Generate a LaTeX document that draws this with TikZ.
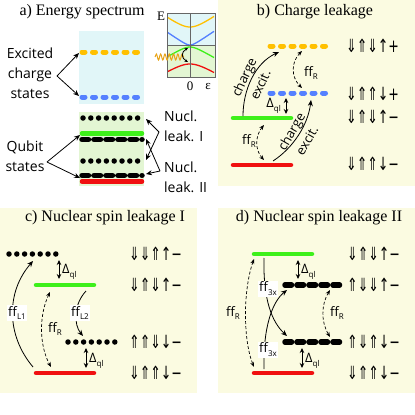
\documentclass[tikz,border=0pt]{standalone}
\usepackage{fontspec}
\setmainfont{Open Sans}
\newfontfamily\ttlfont{Liberation Serif}
\newfontfamily\arrfont{DejaVu Sans Condensed}
\usetikzlibrary{arrows.meta,decorations.pathmorphing}
\definecolor{bgy}{HTML}{FBFBE1}
\definecolor{bgc}{HTML}{E1F6F8}
\definecolor{bgg}{HTML}{E3F6D3}
\definecolor{lvy}{HTML}{FFC000}
\definecolor{lvb}{HTML}{5580FF}
\definecolor{lvg}{HTML}{3EF01A}
\definecolor{lvr}{HTML}{F01010}
\definecolor{wav}{HTML}{E8A317}
\newcommand\sbs[1]{\raisebox{-0.3em}{\fontsize{8}{8}\selectfont #1}}
\newcommand\stt[1]{\scalebox{1}[1.3]{#1}}
\begin{document}
\begin{tikzpicture}[x=1pt,y=-1pt,
  lvl/.style={line width=4.5pt,line cap=round},
  pills/.style={line width=5pt,line cap=round,dash pattern=on 3pt off 7.5pt},
  dots/.style={line width=5.5pt,line cap=round,dash pattern=on 0pt off 7.8pt},
  bars/.style={line width=5.5pt,line cap=round,dash pattern=on 6.5pt off 5.5pt},
  arw/.style={-{Stealth[length=6pt,width=5pt]},line width=0.8pt},
  darw/.style={{Stealth[length=5pt,width=4pt]}-{Stealth[length=5pt,width=4pt]},line width=0.7pt,dash pattern=on 3pt off 2pt},
  gap/.style={{Stealth[length=5pt,width=4.5pt]}-{Stealth[length=5pt,width=4.5pt]},line width=0.9pt},
  lab/.style={font=\fontsize{14}{20}\selectfont,align=center,inner sep=0pt},
  cex/.style={font=\fontsize{13}{18}\selectfont,align=center,inner sep=0pt},
  st/.style={font=\arrfont\fontsize{14}{14}\selectfont,anchor=west,inner sep=0pt},
  ttl/.style={font=\ttlfont\fontsize{16}{16}\selectfont,inner sep=0pt},
  ffl/.style={font=\fontsize{13}{13}\selectfont,inner sep=1pt},
  ffw/.style={ffl,fill=white},
  ser/.style={font=\ttlfont\fontsize{13}{13}\selectfont,inner sep=0pt}]
\useasboundingbox (0,0) rectangle (415,415);
% backgrounds
\fill[bgy] (218,0) rectangle (415,186);
\fill[bgy] (0,208) rectangle (197,393);
\fill[bgy] (218,208) rectangle (415,393);
\fill[bgc] (79,31) rectangle (144,104);
\fill[bgg] (79,112) rectangle (144,186);
% titles
\node[ttl] (ta) at (82,12) {a) Energy spectrum};
\node[ttl] (tb) at (315,12) {b) Charge leakage};
\node[ttl] (tc) at (105,218) {c) Nuclear spin leakage I};
\node[ttl] (td) at (319,218) {d) Nuclear spin leakage II};
% ---------- panel a
\draw[pills,lvy] (82,52) -- (142,52);
\draw[pills,lvb] (82,97) -- (142,97);
\draw[dots] (83,118) -- (142,118);
\draw[bars] (82,139.5) -- (142,139.5);
\draw[lvl,lvg] (82,133.5) -- (142,133.5);
\draw[dots] (83,161) -- (142,161);
\draw[bars] (82,175.5) -- (142,175.5);
\draw[lvl,lvr] (82,181.5) -- (142,181.5);
\node[lab] (exc) at (30,73) {Excited\\charge\\states};
\coordinate (ja) at (57,76);
\coordinate (ay) at (79,53);
\coordinate (ab) at (79,96);
\draw[arw] (ja) -- (ay);
\draw[arw] (ja) -- (ab);
\node[lab] (qub) at (25,156) {Qubit\\states};
\coordinate (jq) at (47,162);
\coordinate (ag) at (80,135);
\coordinate (ar) at (80,178);
\draw[arw] (jq) -- (ag);
\draw[arw] (jq) -- (ar);
\node[lab,align=left,anchor=west] (nl1) at (164,126) {Nucl.\\leak. I};
\node[lab,align=left,anchor=west] (nl2) at (164,177.5) {Nucl.\\leak. II};
\coordinate (j1) at (159,132);
\coordinate (j2) at (160,171);
\coordinate (d1) at (146,119);
\coordinate (d2) at (146,160);
\coordinate (k1) at (146,139);
\coordinate (k2) at (146,174);
\draw[arw] (j1) -- (d1);
\draw[arw] (j1) -- (d2);
\draw[arw] (j2) -- (k1);
\draw[arw] (j2) -- (k2);
% inset
\fill[bgc] (167,13) rectangle (215,45);
\fill[bgg] (167,45) rectangle (215,77);
\begin{scope}
\clip (167,13) rectangle (215,77);
\draw[lvy,line width=1.3pt] plot[domain=-24:24,samples=40] ({190+\x},{27-(sqrt(64+0.49*\x*\x)-8)});
\draw[lvb,line width=1.3pt] plot[domain=-24:24,samples=60] ({190+\x},{45-(sqrt(9+0.467*\x*\x)-3)});
\draw[lvg,line width=1.3pt] plot[domain=-24:24,samples=60] ({190+\x},{47+(sqrt(16+0.34*\x*\x)-4)});
\draw[lvr,line width=1.3pt] plot[domain=-24:24,samples=40] ({190+\x},{64+(sqrt(64+0.363*\x*\x)-8)});
\end{scope}
\draw[gray!80!black,line width=0.6pt] (167,13) rectangle (215,77);
\draw[gray!80!black,line width=0.6pt] (167,45) -- (215,45);
\draw[gray!80!black,line width=0.6pt] (190,13) -- (190,77);
\coordinate (w0) at (155,57);
\coordinate (w1) at (184,57);
\draw[wav,line width=1pt,decorate,decoration={snake,segment length=4.3pt,amplitude=3pt}] (w0) -- (w1);
\coordinate (i1) at (188,48);
\coordinate (i2) at (188,62);
\draw[{Stealth[length=3.5pt,width=3pt]}-{Stealth[length=3.5pt,width=3pt]},line width=0.8pt] (i1) .. controls (181,52) and (181,58) .. (i2);
\node[ser] (E) at (161,16) {E};
\node[ser] (z0) at (190,86) {0};
\node[ser] (eps) at (208,86) {ε};
% ---------- panel b
\draw[pills,lvy] (270,46) -- (328,46);
\draw[pills,lvb] (270,93) -- (328,93);
\draw[lvl,lvg] (233,118) -- (291,118);
\draw[lvl,lvr] (233,165) -- (291,165);
\node[st] (b1) at (346,46) {\stt{⇓⇑⇓↑+}};
\node[st] (b2) at (346,94) {\stt{⇓⇑⇑↓+}};
\node[st] (b3) at (346,117) {\stt{⇓⇑⇓↑−}};
\node[st] (b4) at (346,164) {\stt{⇓⇑⇑↓−}};
\coordinate (bg1) at (243,116);
\coordinate (by1) at (279,52);
\draw[arw] (bg1) .. controls (243,90) and (255,63) .. (by1);
\node[cex,rotate=65] (ce1) at (252,81) {charge\\excit.};
\coordinate (br1) at (273,161);
\coordinate (bb1) at (311,100);
\draw[arw] (br1) .. controls (293,148) and (308,125) .. (bb1);
\node[cex,rotate=60] (ce2) at (299,136) {charge\\excit.};
\coordinate (bq1) at (286,98);
\coordinate (bq2) at (286,114);
\draw[gap] (bq1) -- (bq2);
\node[ffl,anchor=east] (bdq) at (282,106) {Δ\sbs{ql}};
\coordinate (bf1) at (302,51);
\coordinate (bf2) at (302,88);
\draw[darw] (bf1) .. controls (291,62) and (291,77) .. (bf2);
\node[ffl] (bfr1) at (311,73) {ff\sbs{R}};
\coordinate (bf3) at (264,125);
\coordinate (bf4) at (264,160);
\draw[darw] (bf3) .. controls (255,136) and (255,150) .. (bf4);
\node[ffl] (bfr2) at (249,141) {ff\sbs{R}};
% ---------- panel c
\draw[dots] (9,254) -- (63,254);
\draw[lvl,lvg] (36,285) -- (94,285);
\draw[dots] (68,342) -- (120,342);
\draw[lvl,lvr] (36,373) -- (94,373);
\node[st] (c1) at (129,254) {\stt{⇓⇓⇑↑−}};
\node[st] (c2) at (129,285) {\stt{⇓⇑⇓↑−}};
\node[st] (c3) at (129,342) {\stt{⇑⇑⇓↓−}};
\node[st] (c4) at (129,373) {\stt{⇓⇑⇑↓−}};
\coordinate (cq1) at (59,260);
\coordinate (cq2) at (59,279);
\draw[gap] (cq1) -- (cq2);
\node[ffl,anchor=west] (cdq1) at (61,272) {Δ\sbs{ql}};
\coordinate (cq3) at (86,348);
\coordinate (cq4) at (86,368);
\draw[gap] (cq3) -- (cq4);
\node[ffl,anchor=west] (cdq2) at (88,361) {Δ\sbs{ql}};
\coordinate (cl1a) at (33,367);
\coordinate (cl1b) at (33,261);
\draw[arw] (cl1a) .. controls (6,335) and (6,292) .. (cl1b);
\coordinate (cra) at (50,292);
\coordinate (crb) at (51,367);
\draw[darw] (cra) .. controls (39,315) and (39,345) .. (crb);
\coordinate (cl2a) at (86,291);
\coordinate (cl2b) at (83,336);
\draw[arw] (cl2a) .. controls (73,305) and (74,325) .. (cl2b);
\node[ffw] (cfl1) at (17,313) {ff\sbs{L1}};
\node[ffw] (cfl2) at (80,313) {ff\sbs{L2}};
\node[ffl] (cfr) at (55,329) {ff\sbs{R}};
% ---------- panel d
\draw[lvl,lvg] (254,254) -- (312,254);
\draw[bars] (285,285) -- (340,285);
\draw[bars] (285,342) -- (340,342);
\draw[lvl,lvr] (254,373) -- (312,373);
\node[st] (d1s) at (347,254) {\stt{⇓⇑⇓↑−}};
\node[st] (d2s) at (347,285) {\stt{⇑⇓⇓↑−}};
\node[st] (d3s) at (347,342) {\stt{⇑⇓⇑↓−}};
\node[st] (d4s) at (347,373) {\stt{⇓⇑⇑↓−}};
\coordinate (dq1) at (298,260);
\coordinate (dq2) at (298,279);
\draw[gap] (dq1) -- (dq2);
\node[ffl,anchor=west] (ddq1) at (300,272) {Δ\sbs{ql}};
\coordinate (dq3) at (302,348);
\coordinate (dq4) at (302,368);
\draw[gap] (dq3) -- (dq4);
\node[ffl,anchor=west] (ddq2) at (304,361) {Δ\sbs{ql}};
\coordinate (dra) at (254,259);
\coordinate (drb) at (254,367);
\draw[darw] (dra) .. controls (243,290) and (243,340) .. (drb);
\node[ffl] (dfr1) at (233,313) {ff\sbs{R}};
\coordinate (drc) at (330,290);
\coordinate (drd) at (330,337);
\draw[darw] (drc) .. controls (321,305) and (321,322) .. (drd);
\node[ffl] (dfr2) at (337,313) {ff\sbs{R}};
\coordinate (dxa) at (264,258);
\coordinate (dxb) at (287,336);
\draw[arw] (dxa) .. controls (263,300) and (272,322) .. (dxb);
\coordinate (dxc) at (264,369);
\coordinate (dxd) at (287,290);
\draw[arw] (dxc) .. controls (263,328) and (272,302) .. (dxd);
\node[ffw] (df3a) at (268,289) {ff\sbs{3x}};
\node[ffw] (df3b) at (268,350) {ff\sbs{3x}};
\end{tikzpicture}
\end{document}
